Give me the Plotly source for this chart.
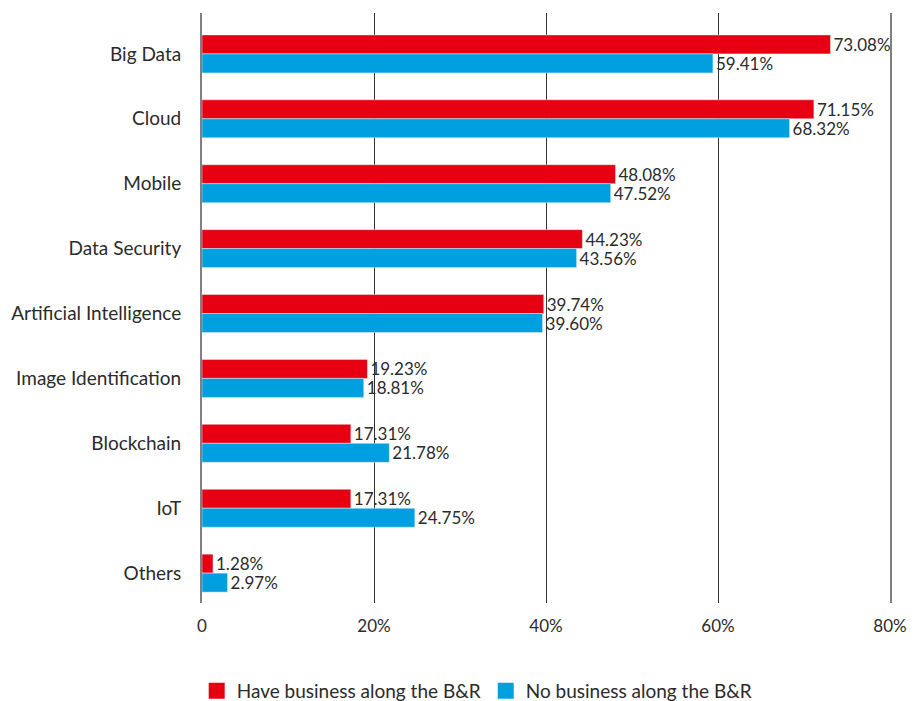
import plotly.graph_objects as go

categories = ["Big Data", "Cloud", "Mobile", "Data Security", "Artificial Intelligence",
              "Image Identification", "Blockchain", "IoT", "Others"]
have_business = [73.08, 71.15, 48.08, 44.23, 39.74, 19.23, 17.31, 17.31, 1.28]
no_business = [59.41, 68.32, 47.52, 43.56, 39.60, 18.81, 21.78, 24.75, 2.97]
tick_vals = [0, 20, 40, 60, 80]
tick_text = ["0", "20%", "40%", "60%", "80%"]

FONT = "Lato, 'Noto Sans', sans-serif"
RED = "#E60012"
BLUE = "#009FE0"
TXT = "#2b2b2b"
names = ["Have business along the B&R", "No business along the B&R"]

fig = go.Figure()
for vals, color, name in [(have_business, RED, names[0]), (no_business, BLUE, names[1])]:
    fig.add_trace(go.Bar(
        y=categories, x=vals, orientation="h",
        name=name, marker_color=color, showlegend=False,
        text=[f"{v:.2f}%" for v in vals], textposition="outside",
        constraintext="none", cliponaxis=False,
        textfont=dict(size=17, color=TXT, family=FONT),
    ))
for color, name in [(RED, names[0]), (BLUE, names[1])]:
    fig.add_trace(go.Scatter(
        x=[None], y=[None], mode="markers", name=name,
        marker=dict(symbol="square", size=19, color=color),
    ))

fig.update_layout(
    width=923, height=701,
    margin=dict(l=202, r=33, t=13, b=98, autoexpand=False),
    paper_bgcolor="white", plot_bgcolor="white",
    barmode="group", bargap=0.415, bargroupgap=0,
    font=dict(family=FONT, color=TXT),
    showlegend=True,
    legend=dict(orientation="h", x=0.40, xanchor="center", y=-0.149, yanchor="middle",
                font=dict(size=19, color=TXT), itemwidth=30,
                traceorder="normal"),
    xaxis=dict(range=[0, 80], tickvals=tick_vals, ticktext=tick_text,
               showgrid=True, gridcolor="#333333", gridwidth=1,
               zeroline=False, showline=False,
               tickfont=dict(size=17, color=TXT), ticks="",
               ticklabelstandoff=11),
    yaxis=dict(range=[8.46, -0.63], showgrid=False, zeroline=False,
               showline=True, linecolor="#808080", linewidth=2, mirror=True,
               tickfont=dict(size=19, color=TXT), ticks="",
               ticklabelstandoff=15),
)

fig.write_html("out.html")
